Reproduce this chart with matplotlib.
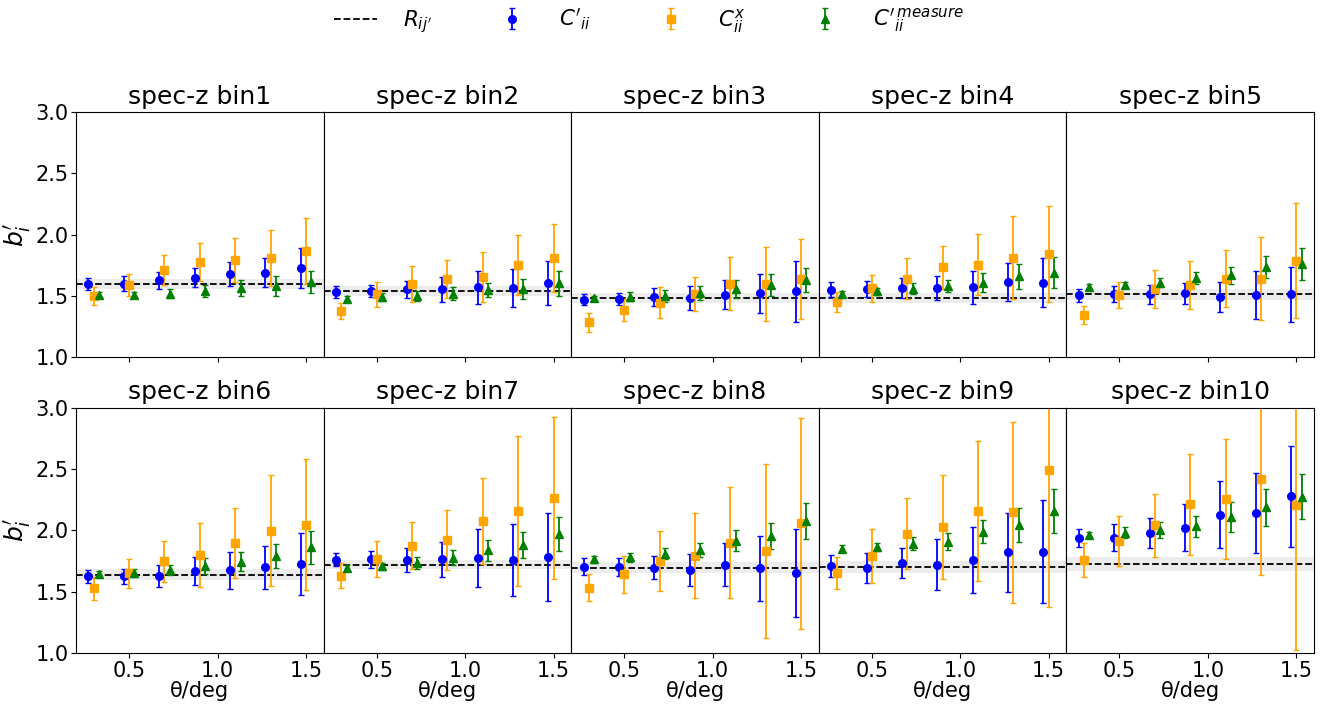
import numpy as np
import matplotlib
matplotlib.use('Agg')
import matplotlib.pyplot as plt

# angular bins (deg)
theta = np.array([0.3, 0.5, 0.7, 0.9, 1.1, 1.3, 1.5])
dx = 0.03

# R_ij' per spec-z bin and its band half-width
R = [1.60, 1.54, 1.485, 1.482, 1.514, 1.637, 1.721, 1.696, 1.699, 1.729]
R_err = [0.04, 0.04, 0.04, 0.04, 0.044, 0.045, 0.04, 0.043, 0.05, 0.057]

# C'_ii
cp = [[1.60, 1.60, 1.628, 1.65, 1.678, 1.69, 1.727],
      [1.533, 1.541, 1.555, 1.555, 1.571, 1.569, 1.604],
      [1.471, 1.479, 1.493, 1.484, 1.512, 1.522, 1.539],
      [1.552, 1.558, 1.566, 1.566, 1.571, 1.615, 1.61],
      [1.506, 1.517, 1.514, 1.522, 1.493, 1.512, 1.514],
      [1.626, 1.626, 1.629, 1.669, 1.675, 1.699, 1.724],
      [1.759, 1.764, 1.759, 1.764, 1.775, 1.759, 1.783],
      [1.702, 1.702, 1.696, 1.68, 1.718, 1.691, 1.653],
      [1.707, 1.696, 1.734, 1.721, 1.759, 1.821, 1.827],
      [1.935, 1.94, 1.978, 2.022, 2.125, 2.141, 2.276]]
cp_err = [[0.05, 0.06, 0.07, 0.08, 0.10, 0.12, 0.165],
          [0.045, 0.05, 0.07, 0.10, 0.135, 0.155, 0.18],
          [0.045, 0.05, 0.073, 0.097, 0.118, 0.158, 0.248],
          [0.06, 0.065, 0.083, 0.10, 0.133, 0.155, 0.20],
          [0.055, 0.062, 0.075, 0.087, 0.122, 0.195, 0.225],
          [0.052, 0.062, 0.092, 0.113, 0.15, 0.175, 0.25],
          [0.052, 0.068, 0.095, 0.143, 0.235, 0.295, 0.357],
          [0.069, 0.074, 0.095, 0.13, 0.175, 0.265, 0.36],
          [0.088, 0.122, 0.12, 0.207, 0.27, 0.32, 0.42],
          [0.073, 0.108, 0.12, 0.19, 0.273, 0.328, 0.412]]

# C^x_ii
cx = [[1.503, 1.593, 1.713, 1.776, 1.795, 1.808, 1.868],
      [1.378, 1.514, 1.601, 1.639, 1.658, 1.751, 1.81],
      [1.288, 1.389, 1.446, 1.517, 1.601, 1.599, 1.639],
      [1.449, 1.563, 1.642, 1.735, 1.757, 1.814, 1.844],
      [1.348, 1.512, 1.558, 1.593, 1.642, 1.642, 1.789],
      [1.526, 1.65, 1.748, 1.799, 1.897, 1.995, 2.046],
      [1.631, 1.764, 1.875, 1.921, 2.076, 2.157, 2.266],
      [1.531, 1.642, 1.748, 1.794, 1.897, 1.832, 2.057],
      [1.65, 1.791, 1.973, 2.03, 2.154, 2.146, 2.493],
      [1.759, 1.916, 2.041, 2.211, 2.257, 2.417, 2.203]]
cx_err = [[0.072, 0.09, 0.12, 0.155, 0.18, 0.23, 0.27],
          [0.067, 0.10, 0.147, 0.155, 0.205, 0.245, 0.28],
          [0.078, 0.09, 0.125, 0.14, 0.217, 0.303, 0.328],
          [0.082, 0.11, 0.168, 0.175, 0.245, 0.34, 0.39],
          [0.072, 0.106, 0.154, 0.196, 0.232, 0.34, 0.468],
          [0.096, 0.118, 0.166, 0.26, 0.286, 0.453, 0.534],
          [0.10, 0.145, 0.193, 0.242, 0.35, 0.615, 0.66],
          [0.111, 0.152, 0.244, 0.343, 0.452, 0.707, 0.86],
          [0.13, 0.218, 0.287, 0.424, 0.57, 0.737, 1.12],
          [0.138, 0.203, 0.255, 0.412, 0.488, 0.783, 1.18]]

# C'^measure_ii
cm = [[1.51, 1.51, 1.52, 1.544, 1.566, 1.58, 1.612],
      [1.479, 1.493, 1.503, 1.52, 1.55, 1.555, 1.604],
      [1.482, 1.495, 1.503, 1.528, 1.558, 1.59, 1.629],
      [1.52, 1.539, 1.561, 1.582, 1.61, 1.661, 1.691],
      [1.571, 1.59, 1.61, 1.648, 1.669, 1.735, 1.762],
      [1.645, 1.653, 1.678, 1.71, 1.745, 1.789, 1.862],
      [1.694, 1.707, 1.732, 1.778, 1.837, 1.883, 1.97],
      [1.762, 1.78, 1.808, 1.84, 1.916, 1.954, 2.076],
      [1.851, 1.862, 1.892, 1.908, 1.989, 2.041, 2.157],
      [1.959, 1.981, 2.003, 2.033, 2.106, 2.187, 2.274]]
cm_err = [[0.02, 0.025, 0.035, 0.05, 0.065, 0.08, 0.09],
          [0.023, 0.03, 0.04, 0.05, 0.06, 0.08, 0.10],
          [0.018, 0.035, 0.048, 0.058, 0.07, 0.09, 0.098],
          [0.02, 0.03, 0.046, 0.05, 0.075, 0.10, 0.125],
          [0.025, 0.027, 0.038, 0.052, 0.07, 0.09, 0.128],
          [0.022, 0.03, 0.04, 0.065, 0.077, 0.10, 0.133],
          [0.026, 0.027, 0.05, 0.061, 0.084, 0.107, 0.136],
          [0.026, 0.036, 0.046, 0.06, 0.084, 0.107, 0.144],
          [0.026, 0.033, 0.05, 0.07, 0.095, 0.14, 0.18],
          [0.025, 0.043, 0.066, 0.085, 0.123, 0.152, 0.186]]

fig, axes = plt.subplots(2, 5, figsize=(13.25, 7.04), dpi=100, sharex=True, sharey=True)
fig.subplots_adjust(left=0.0574, right=0.9917, top=0.841, bottom=0.0724, wspace=0, hspace=0.204)

ebkw = dict(linestyle='none', capsize=2.5, elinewidth=1.3, capthick=1.0, markersize=5.5)

for i, ax in enumerate(axes.flat):
    ax.axhspan(R[i] - R_err[i], R[i] + R_err[i], color='gray', alpha=0.15, lw=0)
    l1, = ax.plot([0.2, 1.6], [R[i], R[i]], 'k--', lw=1.3, label=r"$R_{ij'}$")
    h1 = ax.errorbar(theta - dx, cp[i], yerr=cp_err[i], fmt='o', color='blue', label=r"$C'_{ii}$", **ebkw)
    h2 = ax.errorbar(theta, cx[i], yerr=cx_err[i], fmt='s', color='orange', label=r"$C^{x}_{ii}$", **ebkw)
    h3 = ax.errorbar(theta + dx, cm[i], yerr=cm_err[i], fmt='^', color='green', label=r"$C'^{\,measure}_{ii}$", **ebkw)
    ax.set_title('spec-z bin%d' % (i + 1), fontsize=18)
    ax.set_xlim(0.2, 1.6)
    ax.set_ylim(1.0, 3.0)
    ax.set_xticks([0.5, 1.0, 1.5])
    ax.set_yticks([1.0, 1.5, 2.0, 2.5, 3.0])
    ax.tick_params(labelsize=15, pad=2)
    if i % 5 != 0:
        ax.tick_params(left=False)
    else:
        ax.set_ylabel(r"$b_i'$", fontsize=18, labelpad=2)
    if i >= 5:
        ax.set_xlabel('θ/deg', fontsize=15, labelpad=0)

fig.legend([l1, h1, h2, h3], [l1.get_label(), h1.get_label(), h2.get_label(), h3.get_label()],
           loc='upper center', bbox_to_anchor=(0.49, 1.018), ncol=4, frameon=False,
           fontsize=15.5, columnspacing=2.7, handletextpad=1.2)

plt.savefig('out.png', dpi=100)
